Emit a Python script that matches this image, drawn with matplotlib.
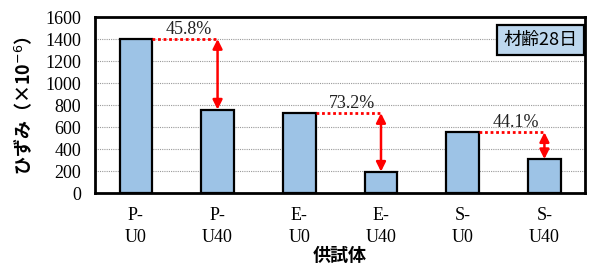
import matplotlib.pyplot as plt
import numpy as np

specimens = ["P-\nU0", "P-\nU40", "E-\nU0", "E-\nU40", "S-\nU0", "S-\nU40"]
strain = [1400, 759, 727, 195, 553, 309]
# (higher bar index, lower bar index, label)
reductions = [(0, 1, "45.8%"), (2, 3, "73.2%"), (4, 5, "44.1%")]

serif = ["Liberation Serif", "Noto Sans CJK JP"]
jp = ["Noto Sans CJK JP", "DejaVu Sans"]

fig = plt.figure(figsize=(5.9, 2.66), dpi=100)
ax = fig.add_axes([0.161, 0.274, 0.831, 0.662])

x = np.arange(len(specimens))
width = 0.40
ax.bar(x, strain, width, color="#9dc3e6", edgecolor="black", linewidth=1.6, zorder=3)

for hi, lo, lab in reductions:
    top = strain[hi]
    ax.plot([x[hi] + width / 2, x[lo]], [top, top], color="red", linestyle=(0, (1, 1)),
            linewidth=2.0, zorder=4)
    ax.annotate("", xy=(x[lo], strain[lo]), xytext=(x[lo], top),
                arrowprops=dict(arrowstyle="<|-|>", color="red", lw=1.8,
                                mutation_scale=14, shrinkA=0, shrinkB=0), zorder=5)
    ax.text((x[hi] + width / 2 + x[lo]) / 2 + 0.05, top + 10, lab, ha="center", va="bottom",
            fontsize=13, family=serif, color="#222222", zorder=6)

ax.set_xlim(-0.5, len(specimens) - 0.5)
ax.set_ylim(0, 1600)
ax.set_yticks(np.arange(0, 1601, 200))
ax.yaxis.grid(True, linestyle=(0, (1, 1)), color="#999999", linewidth=0.8, zorder=0)
ax.set_axisbelow(True)
ax.tick_params(axis="y", length=0, pad=10)
ax.tick_params(axis="x", length=0, pad=10)
ax.set_xticks(x)
ax.set_xticklabels(specimens, family=serif, fontsize=13, linespacing=1.35)
for t in ax.get_yticklabels():
    t.set_family(serif)
    t.set_fontsize(13)
for s in ax.spines.values():
    s.set_linewidth(2.0)

ax.set_ylabel("ひずみ（×10$^{-6}$）", family=jp, fontsize=13, fontweight="bold", labelpad=8)
ax.set_xlabel("供試体", family=jp, fontsize=13, fontweight="bold", labelpad=0)

ax.text(0.985, 0.87, "材齢28日", transform=ax.transAxes, ha="right", va="center",
        family=jp, fontsize=13,
        bbox=dict(boxstyle="square,pad=0.35", facecolor="#bdd7ee", edgecolor="black", linewidth=1.6),
        zorder=7)

fig.savefig("out.png", dpi=100)
